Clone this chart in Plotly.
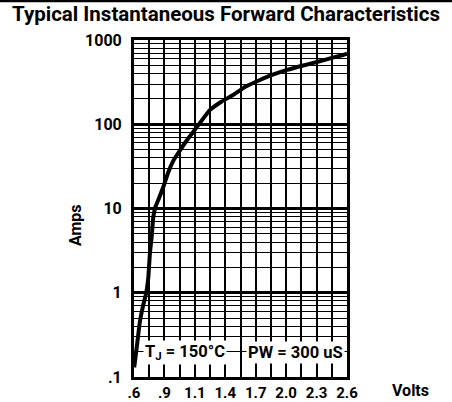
import plotly.graph_objects as go
import numpy as np

# Curve data (volts on the chart's evenly spaced axis, amps)
volts = [0.602, 0.63, 0.655, 0.685, 0.715, 0.734, 0.75, 0.766, 0.781, 0.80, 0.828, 0.875,
         0.922, 0.97, 1.032, 1.098, 1.192, 1.314, 1.42, 1.53, 1.65, 1.783, 1.91, 2.037,
         2.18, 2.318, 2.45, 2.562, 2.6]
amps = [0.13, 0.25, 0.45, 0.7, 1.0, 1.5, 3.0, 4.6, 7.9, 10.3, 12.6, 18,
        27, 37, 49, 65, 93, 148, 185, 222, 280, 335, 390, 441,
        495, 548, 610, 664, 690]

x_tick_labels = [".6", ".9", "1.1", "1.4", "1.7", "2.0", "2.3", "2.6"]
y_decades = [0.1, 1, 10, 100, 1000]
y_decade_labels = [".1", "1", "10", "100", "1000"]

FONT = "Roboto, Liberation Sans, Arial, sans-serif"

x_min, x_max = 0.6, 2.6
x_grid = list(np.linspace(x_min, x_max, 2 * (len(x_tick_labels) - 1) + 1))
x_text = [x_tick_labels[i // 2] if i % 2 == 0 else " " for i in range(len(x_grid))]

y_grid = []
y_text = []
for d, lab in zip(y_decades, y_decade_labels):
    for m in range(1, 10):
        val = d * m
        if val > 1000:
            break
        y_grid.append(val)
        y_text.append(lab if m == 1 else " ")

fig = go.Figure()
# overlay axis providing thicker decade lines
fig.add_trace(go.Scatter(x=[x_min], y=[1], yaxis="y2", mode="markers",
                         marker=dict(opacity=0), showlegend=False, hoverinfo="skip"))
fig.add_trace(go.Scatter(x=volts, y=amps, mode="lines",
                         line=dict(color="black", width=4, shape="spline", smoothing=0.5),
                         showlegend=False, hoverinfo="skip"))

fig.update_layout(
    width=452, height=402,
    margin=dict(l=134, r=105, t=40, b=25, autoexpand=False),
    paper_bgcolor="white", plot_bgcolor="white",
    font=dict(family=FONT, color="black", size=15, weight="bold"),
    xaxis=dict(range=[x_min, x_max], tickmode="array", tickvals=x_grid, ticktext=x_text,
               showgrid=True, gridcolor="black", gridwidth=2, automargin=False,
               showline=True, linecolor="black", linewidth=3, mirror=True,
               ticks="", zeroline=False, tickfont=dict(size=15, family=FONT, weight="bold")),
    yaxis=dict(type="log", range=[-1, 3], tickmode="array", tickvals=y_grid, ticktext=y_text,
               showgrid=True, gridcolor="black", gridwidth=1.2, automargin=False,
               showline=True, linecolor="black", linewidth=3, mirror=True,
               ticks="", zeroline=False, tickfont=dict(size=16, family=FONT, weight="bold"),
               ticklabelstandoff=6),
    yaxis2=dict(type="log", range=[-1, 3], overlaying="y", tickmode="array",
                tickvals=y_decades, showticklabels=False, showgrid=True, automargin=False,
                gridcolor="black", gridwidth=2.5, zeroline=False, showline=False),
)

fig.add_shape(type="line", xref="paper", yref="paper", x0=-134/213, x1=1 + 105/213,
              y0=1 + 39/337, y1=1 + 39/337, line=dict(color="black", width=2.5))
fig.add_annotation(text="Typical Instantaneous Forward Characteristics", xref="paper", yref="paper",
                   x=(226 - 134) / 213, y=1 + 26/337, xanchor="center", yanchor="middle",
                   showarrow=False, font=dict(size=20.5, family=FONT, weight="bold"))
fig.add_annotation(text="Amps", xref="paper", yref="paper", x=(75 - 134) / 213, y=(377 - 225) / 337,
                   textangle=-90, showarrow=False, xanchor="center", yanchor="middle",
                   font=dict(size=16, family=FONT, weight="bold"))
fig.add_annotation(text="Volts", xref="paper", yref="paper", x=(410 - 134) / 213, y=(377 - 390) / 337,
                   showarrow=False, xanchor="center", yanchor="middle",
                   font=dict(size=16, family=FONT, weight="bold"))
fig.add_annotation(text="T<sub>J</sub> = 150°C", xref="paper", yref="paper", x=(185 - 134) / 213,
                   y=(377 - 352) / 337, xanchor="center", yanchor="middle",
                   showarrow=False, bgcolor="white", font=dict(size=16.5, family=FONT, weight="bold"))
fig.add_annotation(text="PW = 300 uS", xref="paper", yref="paper", x=(295 - 134) / 213,
                   y=(377 - 352) / 337, xanchor="center", yanchor="middle",
                   showarrow=False, bgcolor="white", font=dict(size=16.5, family=FONT, weight="bold"))

fig.write_html("out.html", config={"displayModeBar": False},
               post_script="document.body.style.margin='0';")
